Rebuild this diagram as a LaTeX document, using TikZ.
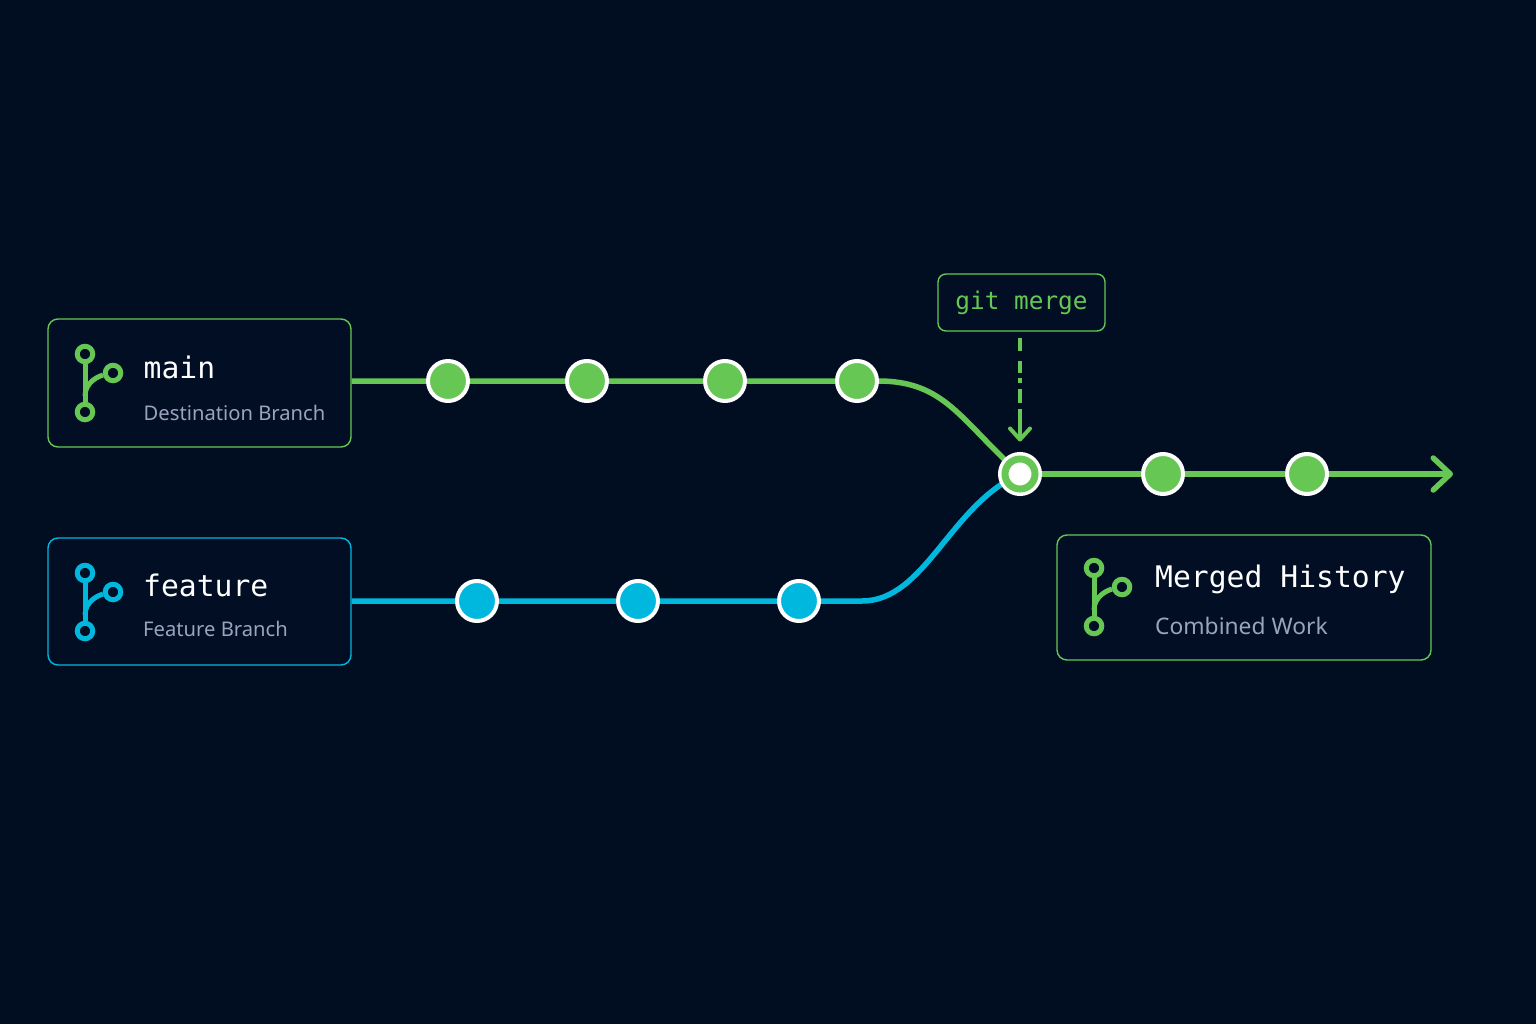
\documentclass[tikz,border=0pt]{standalone}
\usepackage{fontspec}
\setmainfont{Noto Sans}
\setmonofont{DejaVu Sans Mono}
\usetikzlibrary{arrows.meta,backgrounds}
\definecolor{night}{HTML}{010E22}
\definecolor{panel}{HTML}{010E23}
\definecolor{leaf}{HTML}{66C755}
\definecolor{sky}{HTML}{00B8DE}
\definecolor{mist}{HTML}{9CA3BF}
\begin{document}
\begin{tikzpicture}[x=1pt,y=-1pt]
\tikzstyle{panelbox} = [draw, line width=1.4, rounded corners=10, fill=panel, inner sep=0]
\tikzstyle{title} = [anchor=base west, inner sep=0, text=white, font=\ttfamily\fontsize{29.7}{36}\selectfont]
\tikzstyle{subtitle} = [anchor=base west, inner sep=0, text=mist, font=\fontsize{20.2}{26}\selectfont]
\tikzstyle{commit} = [shape=circle, minimum size=40, inner sep=0, draw=white, line width=4]
\tikzstyle{merged} = [shape=circle, minimum size=30, inner sep=0, draw=leaf, line width=7, fill=white, preaction={draw=white, line width=14}]
\tikzstyle{branch} = [line width=5.5]
\tikzstyle{ring} = [shape=circle, minimum size=15.5, inner sep=0, draw, line width=5, fill=panel]
\useasboundingbox (0,0) rectangle (1536,1024);

\node [panelbox, draw=leaf, minimum width=303, minimum height=128] (mainbox) at (199.5,383) {};
\node [panelbox, draw=sky, minimum width=303, minimum height=127] (featurebox) at (199.5,601.5) {};
\node [panelbox, draw=leaf, minimum width=374, minimum height=125] (mergedbox) at (1244,597.5) {};
\node [panelbox, draw=leaf, rounded corners=8, minimum width=167, minimum height=57, text=leaf, font=\ttfamily\fontsize{24.4}{30}\selectfont] (gitbox) at (1021.5,302.5) {git merge};

\node [title] (maintitle) at (143.5,378) {main};
\node [subtitle] (mainsub) at (143.5,420) {Destination Branch};
\node [title] (featuretitle) at (143,596) {feature};
\node [subtitle] (featuresub) at (143,636) {Feature Branch};
\node [title] (mergedtitle) at (1155,587) {Merged History};
\node [subtitle, font=\fontsize{22.8}{26}\selectfont] (mergedsub) at (1155,634) {Combined Work};

% branch icons
\foreach \n/\x/\y/\c in {mainicon/85/354/leaf, featureicon/85/573/sky, mergedicon/1094/568/leaf}
{
    \node [ring, draw=\c] (\n-top) at (\x,\y) {};
    \node [ring, draw=\c] (\n-side) at (\x+28,\y+19) {};
    \node [ring, draw=\c] (\n-bot) at (\x,\y+58) {};
    \coordinate (\n-join) at (\x,\y+42);
    \draw [line width=5, \c] (\n-top) -- (\n-bot);
    \draw [line width=5, \c] (\n-side) .. controls +(-14,3) and +(0,-14) .. (\n-join);
}

\node [commit, fill=leaf] (m1) at (448,381) {};
\node [commit, fill=leaf] (m2) at (587,381) {};
\node [commit, fill=leaf] (m3) at (725,381) {};
\node [commit, fill=leaf] (m4) at (857,381) {};
\node [commit, fill=sky] (f1) at (477,601) {};
\node [commit, fill=sky] (f2) at (638,601) {};
\node [commit, fill=sky] (f3) at (799,601) {};
\node [merged] (mergepoint) at (1020,474) {};
\node [commit, fill=leaf] (h1) at (1163,474) {};
\node [commit, fill=leaf] (h2) at (1307,474) {};
\coordinate (mainbend) at (878,381);
\coordinate (featurebend) at (862,601);
\coordinate (arrowend) at (1453,474);

\begin{scope}[on background layer]
\fill [night] (0,0) rectangle (1536,1024);
\draw [branch, leaf] (mainbox.east |- m1) -- (m1) -- (m2) -- (m3) -- (m4) -- (mainbend)
    .. controls (945,381) and (960,420) .. (mergepoint.center);
\draw [branch, sky] (featurebox.east |- f1) -- (f1) -- (f2) -- (f3) -- (featurebend)
    .. controls (925,601) and (950,505) .. (mergepoint.center);
\draw [branch, leaf, -{Straight Barb[length=17,width=32,line width=5.5,line cap=round,round]}] (mergepoint) -- (h1) -- (h2) -- (arrowend);
\end{scope}

\draw [line width=3.5, leaf, shorten <=6, shorten >=14, dash pattern=on 13 off 10 on 12 off 5 on 5 off 6 on 14 off 6 on 40,
    -{Straight Barb[length=11,width=20,line width=4,line cap=round,round]}] (gitbox.south -| mergepoint) -- (mergepoint.north);
\end{tikzpicture}
\end{document}
